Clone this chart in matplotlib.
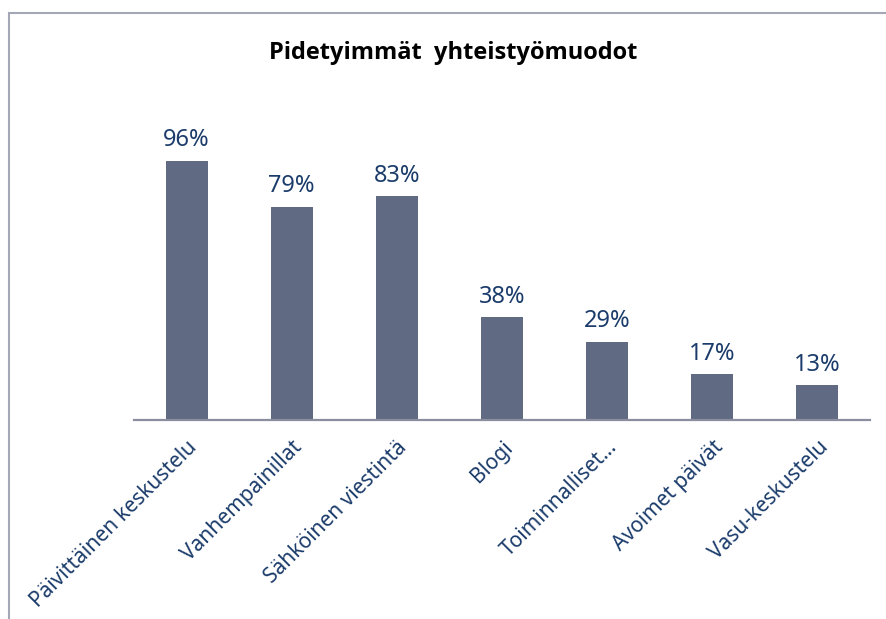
import matplotlib.pyplot as plt
from matplotlib.patches import Rectangle

# data
categories = ['Päivittäinen keskustelu', 'Vanhempainillat', 'Sähköinen viestintä',
              'Blogi', 'Toiminnalliset…', 'Avoimet päivät', 'Vasu-keskustelu']
values = [96, 79, 83, 38, 29, 17, 13]

plt.rcParams['font.family'] = ['Noto Sans', 'DejaVu Sans']

navy = '#1b3c6b'
fig = plt.figure(figsize=(8.86, 6.19), dpi=100)
ax = fig.add_axes([134/886, 1 - 420/619, 736/886, 270/619])

x = range(len(values))
bars = ax.bar(x, values, width=0.4, color='#606a83')
for b, v in zip(bars, values):
    ax.annotate('%d%%' % v, (b.get_x() + b.get_width()/2, v), xytext=(0, 6),
                textcoords='offset points', ha='center', va='bottom',
                fontsize=17, color=navy)

ax.set_xlim(-0.5, len(values) - 0.5)
ax.set_ylim(0, 100)
ax.set_yticks([])
ax.set_xticks(list(x))
ax.set_xticklabels(categories, rotation=45, ha='right', va='top',
                   rotation_mode='anchor', fontsize=15, color=navy)
ax.tick_params(axis='x', length=0, pad=12)
for s in ['top', 'right', 'left']:
    ax.spines[s].set_visible(False)
ax.spines['bottom'].set_color('#8a8e9e')
ax.spines['bottom'].set_linewidth(1.6)

fig.text(453/886, 1 - 53/619, 'Pidetyimmät  yhteistyömuodot', ha='center', va='center',
         fontsize=17, fontweight='bold', color='black', family=['Open Sans', 'DejaVu Sans'])

# outer chart border (only top and left visible in the crop)
fig.patches.append(Rectangle((9/886, -0.1), 1.2, (619 - 13)/619 + 0.1,
                             transform=fig.transFigure, fill=False,
                             edgecolor='#a3a7b6', linewidth=1.5))

fig.savefig('out.png', dpi=100)
